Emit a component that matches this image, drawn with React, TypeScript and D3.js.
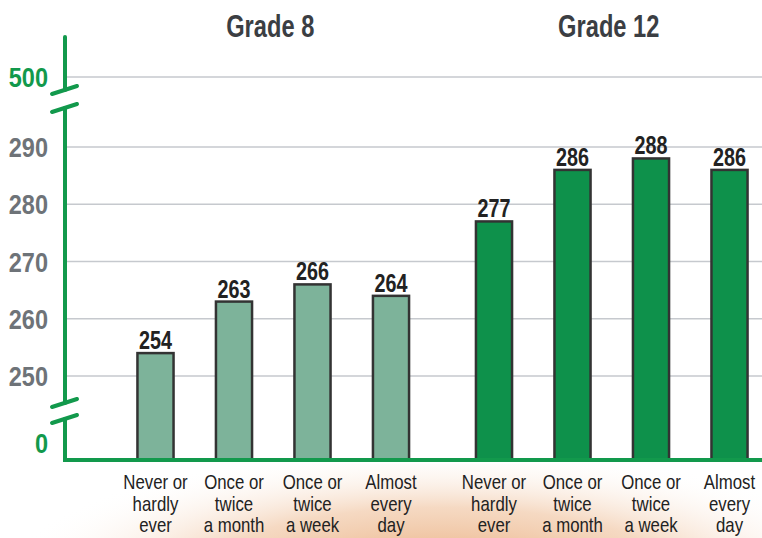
import React from 'react';
import * as d3 from 'd3';

const groups = ['Grade 8', 'Grade 12'];
const categories = [
  ['Never or', 'hardly', 'ever'],
  ['Once or', 'twice', 'a month'],
  ['Once or', 'twice', 'a week'],
  ['Almost', 'every', 'day'],
];
const grade8 = [254, 263, 266, 264];
const grade12 = [277, 286, 288, 286];
const yTicks = [250, 260, 270, 280, 290];
const breakTicks = ['500', '0'];

const W = 762;
const H = 538;
const axisX = 65;
const baseY = 460;
const FONT = "'Liberation Sans', Arial, sans-serif";

// condensed text: no narrow font installed, so squeeze horizontally
const T: React.FC<{
  x: number; y: number; sx: number; size: number; fill: string;
  anchor?: string; bold?: boolean; children: React.ReactNode;
}> = ({ x, y, sx, size, fill, anchor = 'middle', bold = true, children }) => (
  <text transform={`translate(${x},${y}) scale(${sx},1)`} textAnchor={anchor} fontFamily={FONT}
    fontWeight={bold ? 'bold' : 'normal'} fontSize={size} fill={fill}>{children}</text>
);

const App: React.FC = () => {
  const y = d3.scaleLinear().domain([250, 290]).range([376, 147]);
  const topY = y(290) - 70;

  const x0 = d3.scaleBand<string>().domain(groups).range([116.25, 768.75]).paddingInner(0.0724);
  const x1 = d3
    .scaleBand<number>()
    .domain(d3.range(categories.length))
    .range([0, x0.bandwidth()])
    .paddingInner(0.54)
    .paddingOuter(0.27);

  const series = [grade8, grade12];
  const fills = ['#7db39a', '#0e914b'];
  const green = '#12994c';

  return (
    <svg width={W} height={H} style={{ position: 'absolute', left: 0, top: 0, background: '#fff' }}>
      <defs>
        <radialGradient id="glow" cx="440" cy="580" r="440" gradientUnits="userSpaceOnUse"
          gradientTransform="translate(440 580) scale(1 0.3) translate(-440 -580)">
          <stop offset="0" stopColor="#e59c62" stopOpacity={0.9} />
          <stop offset="0.55" stopColor="#efc09a" stopOpacity={0.6} />
          <stop offset="1" stopColor="#ffffff" stopOpacity={0} />
        </radialGradient>
      </defs>
      <rect x={0} y={baseY + 4} width={W} height={H - baseY - 4} fill="url(#glow)" />

      {/* gridlines */}
      {yTicks.map((t) => (
        <line key={t} x1={axisX} x2={W} y1={y(t)} y2={y(t)} stroke="#c6c9ce" strokeWidth={1.5} />
      ))}
      <line x1={axisX} x2={W} y1={topY} y2={topY} stroke="#c6c9ce" strokeWidth={1.5} />

      {/* y labels */}
      {yTicks.map((t) => (
        <T key={t} x={48} y={y(t) + 10} sx={0.84} size={28} anchor="end" fill="#6e7378">{t}</T>
      ))}
      <T x={48} y={topY + 10} sx={0.84} size={28} anchor="end" fill={green}>{breakTicks[0]}</T>
      <T x={48} y={baseY - 7} sx={0.84} size={28} anchor="end" fill={green}>{breakTicks[1]}</T>

      {/* bars */}
      {groups.map((g, gi) => (
        <g key={g} transform={`translate(${x0(g)},0)`}>
          <T x={x0.bandwidth() / 2 - 3} y={37} sx={0.74} size={32} fill="#3b3e43">{g}</T>
          {series[gi].map((v, i) => {
            const cx = (x1(i) as number) + x1.bandwidth() / 2;
            return (
              <g key={i}>
                <rect x={x1(i)} y={y(v)} width={x1.bandwidth()} height={baseY - y(v)} fill={fills[gi]}
                  stroke="#333" strokeWidth={2.5} />
                <T x={cx} y={y(v) - 4} sx={0.76} size={26} fill="#222">{v}</T>
                {categories[i].map((line, li) => (
                  <T key={li} x={cx} y={489 + li * 21.5} sx={0.82} size={20.5} bold={false}
                    fill="#222">{line}</T>
                ))}
              </g>
            );
          })}
        </g>
      ))}

      {/* axis with breaks */}
      <g stroke={green} strokeWidth={4} strokeLinecap="round" fill="none">
        <line x1={axisX} x2={axisX} y1={37} y2={90} />
        <line x1={axisX} x2={axisX} y1={108} y2={403} />
        <line x1={axisX} x2={axisX} y1={419} y2={baseY} />
        <line x1={52} y1={94} x2={77} y2={86} />
        <line x1={52} y1={112} x2={77} y2={104} />
        <line x1={52} y1={407} x2={77} y2={399} />
        <line x1={52} y1={423} x2={77} y2={415} />
      </g>
      <line x1={axisX - 2} x2={W} y1={baseY} y2={baseY} stroke={green} strokeWidth={4} />
    </svg>
  );
};

export default App;
